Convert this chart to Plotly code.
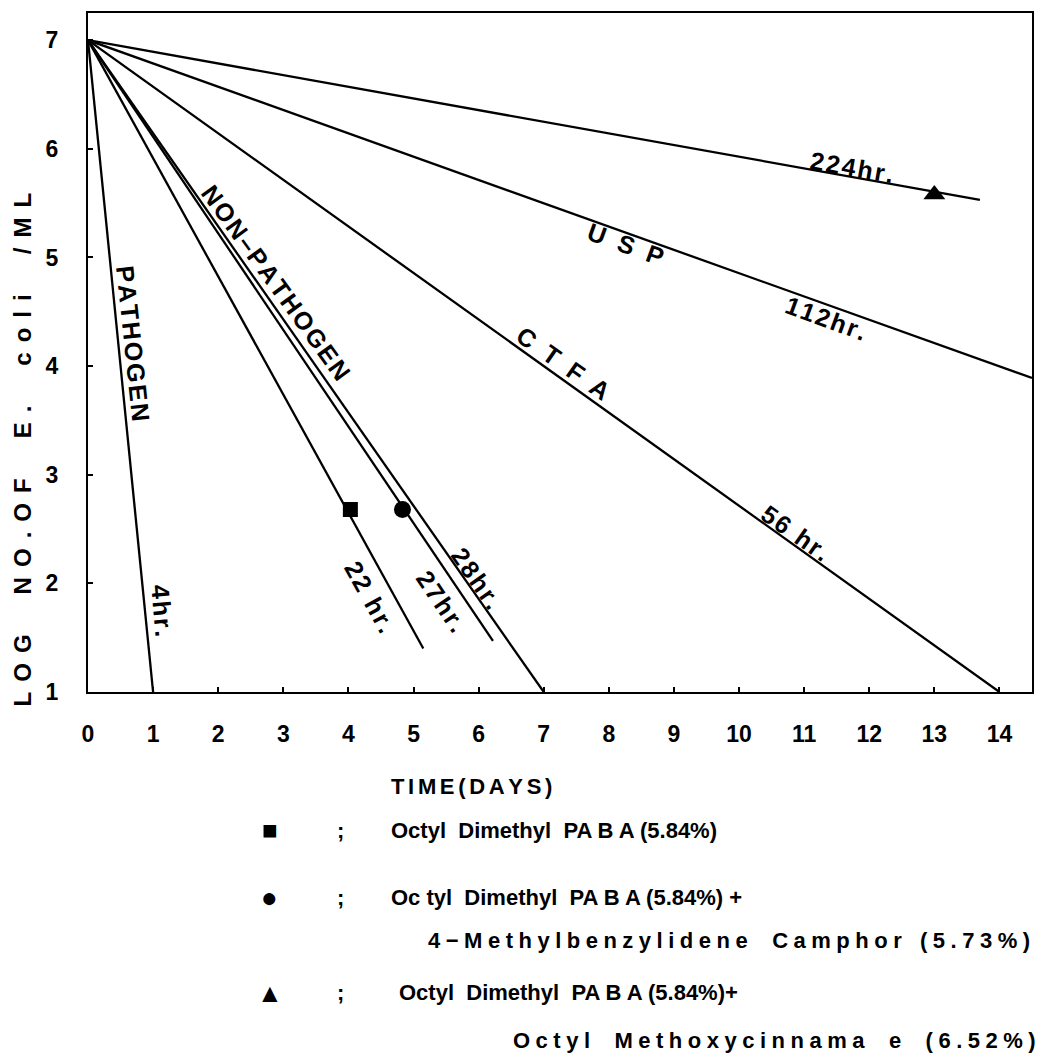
import plotly.graph_objects as go

# ---------------- data ----------------
d_values = [4, 22, 27, 28, 56, 112, 224]          # hr per log reduction
start_x = [0, 0, 0, 0, 0, 0, 0]
start_y = [7.0, 7.0, 7.0, 7.0, 7.0, 7.0, 7.0]
end_x = [1.0, 5.15, 6.22, 7.0, 14.0, 14.5, 13.7]
end_y = [1.0, 1.40, 1.47, 1.0, 1.0, 3.89, 5.53]

marker_names = ["Octyl Dimethyl PABA", "ODPABA + 4-MBC", "ODPABA + OMC"]
marker_x = [4.03, 4.83, 13.0]
marker_y = [2.68, 2.68, 5.58]
marker_symbols = ["square", "circle", "triangle-up"]
marker_sizes = [15, 17, 19]

label_text = ["PATHOGEN", "NON–PATHOGEN", "4hr.", "22 hr.", "27hr.", "28hr.",
              "C  T  F  A", "56 hr.", "U  S  P", "112hr.", "224hr."]
label_x = [0.69, 2.88, 1.15, 4.33, 5.43, 5.97, 7.30, 10.87, 8.25, 11.33, 11.73]
label_y = [4.21, 4.77, 1.75, 1.87, 1.84, 2.05, 4.03, 2.46, 5.12, 4.44, 5.83]
label_angle = [84, 54, 85, 61, 56, 55, 35, 35, 20, 20, 10]

x_ticks = list(range(0, 15))
y_ticks = [1, 2, 3, 4, 5, 6, 7]

# ---------------- figure ----------------
W, H = 1042, 1061
L, R, T, B = 88, 8, 13, 369.4
PW, PH = W - L - R, H - T - B

def px(xp):
    return (xp - L) / PW

def py(yp):
    return (H - B - yp) / PH

def spaced(s, gap):
    return gap.join(list(s))

FONT = "Liberation Sans"
HAIR, SIXTH, QUART, THIRD = "\u200a", "\u2006", "\u2005", "\u2004"

fig = go.Figure()

for i in range(len(d_values)):
    fig.add_trace(go.Scatter(
        x=[start_x[i], end_x[i]], y=[start_y[i], end_y[i]],
        mode="lines", line=dict(color="black", width=2.3),
        name=f"{d_values[i]} hr", showlegend=False, hoverinfo="skip"))

for i in range(len(marker_x)):
    fig.add_trace(go.Scatter(
        x=[marker_x[i]], y=[marker_y[i]], mode="markers",
        marker=dict(symbol=marker_symbols[i], size=marker_sizes[i], color="black"),
        name=marker_names[i], showlegend=False))

for t, x, y, a in zip(label_text, label_x, label_y, label_angle):
    txt = t if "  " in t else spaced(t, HAIR)
    fig.add_annotation(x=x, y=y, xref="x", yref="y", text=txt, textangle=a,
                       showarrow=False,
                       font=dict(family=FONT, size=25, color="black", weight="bold"))

# axis title (y)
ytitle = "      ".join(spaced(w, THIRD + HAIR) for w in ["LOG", "NO.OF", "E.", "coli", "/ML"])
fig.add_annotation(x=px(22), y=py(450), xref="paper", yref="paper",
                   text=ytitle, textangle=-90,
                   showarrow=False, xanchor="center", yanchor="middle",
                   font=dict(family=FONT, size=24, color="black", weight="bold"))

# x title and key
def note(text, xp, yp, size=22, anchor="left"):
    fig.add_annotation(x=px(xp), y=py(yp), xref="paper", yref="paper", text=text,
                       showarrow=False, xanchor=anchor, yanchor="middle",
                       font=dict(family=FONT, size=size, color="black", weight="bold"))

note(spaced("TIME(DAYS)", SIXTH), 390, 786)
note("■", 270, 830, size=26, anchor="center")
note(";", 336, 830)
note("Octyl  Dimethyl  PA B A (5.84%)", 390, 830)
note("●", 270, 897, size=28, anchor="center")
note(";", 336, 897)
note("Oc tyl  Dimethyl  PA B A (5.84%) +", 390, 897)
note(spaced("4−Methylbenzylidene", QUART) + "    " + spaced("Camphor", QUART)
     + "   " + spaced("(5.73%)", QUART), 427, 940)
note("▲", 270, 992, size=26, anchor="center")
note(";", 336, 992)
note("Octyl  Dimethyl  PA B A (5.84%)+", 398, 992)
note(spaced("Octyl", QUART) + "    " + spaced("Methoxycinnama", QUART) + "    e    "
     + spaced("(6.52%)", QUART), 512, 1040)

axis_common = dict(showline=True, linecolor="black", linewidth=2.3, mirror=True,
                   ticks="inside", ticklen=5, tickwidth=1.5, tickcolor="black",
                   showgrid=False, zeroline=False,
                   tickfont=dict(family=FONT, size=23, color="black", weight="bold"))

fig.update_xaxes(range=[0, 14.5], tickvals=x_ticks, ticktext=[str(v) for v in x_ticks],
                 ticklabelstandoff=20, **axis_common)
fig.update_yaxes(range=[1, 7.25], tickvals=y_ticks, ticktext=[str(v) for v in y_ticks],
                 ticklabelstandoff=23, **axis_common)

fig.update_layout(width=W, height=H, margin=dict(l=L, r=R, t=T, b=B),
                  paper_bgcolor="white", plot_bgcolor="white", showlegend=False)

fig.write_html("out.html", config={"displayModeBar": False},
               post_script="document.body.style.margin='0';document.body.style.overflow='hidden';")
